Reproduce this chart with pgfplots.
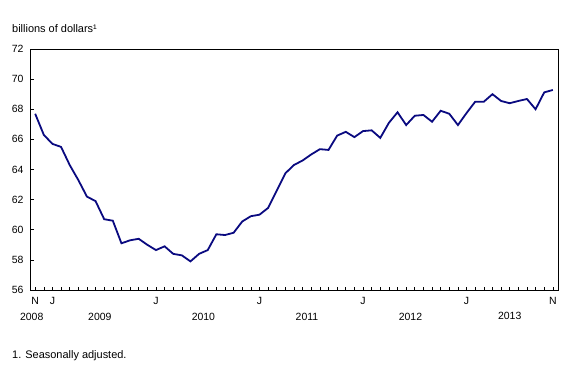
\documentclass[border=0pt]{standalone}
\usepackage{pgfplots}
\pgfplotsset{compat=1.18}
\usepackage{fontspec}
\setmainfont{Liberation Sans}
\definecolor{linecol}{RGB}{10,10,128}
\pgfplotstableread{
i v
0 67.7
1 66.3
2 65.7
3 65.5
4 64.3
5 63.3
6 62.2
7 61.9
8 60.7
9 60.6
10 59.1
11 59.3
12 59.4
13 59.0
14 58.65
15 58.9
16 58.4
17 58.3
18 57.9
19 58.4
20 58.65
21 59.7
22 59.65
23 59.8
24 60.55
25 60.9
26 61.0
27 61.45
28 62.6
29 63.75
30 64.3
31 64.6
32 65.0
33 65.35
34 65.3
35 66.25
36 66.5
37 66.15
38 66.55
39 66.6
40 66.1
41 67.1
42 67.8
43 66.95
44 67.57
45 67.62
46 67.17
47 67.9
48 67.7
49 66.95
50 67.75
51 68.5
52 68.5
53 69.0
54 68.55
55 68.4
56 68.55
57 68.68
58 68.0
59 69.12
60 69.28
}\datatable
\begin{document}
\begin{tikzpicture}[x=1bp,y=1bp]
\path[use as bounding box] (0,0) rectangle (588,380);
\begin{axis}[
  at={(30bp,90bp)}, anchor=south west, scale only axis,
  width=528bp, height=241bp,
  xmin=-0.6, xmax=60.6, ymin=56, ymax=72,
  ytick={56,58,...,72},
  xtick={0,...,60}, xticklabels={},
  tick align=inside, major tick length=3.5bp,
  ytick pos=left, xtick pos=bottom,
  extra x ticks={0,2,14,26,38,50,60},
  extra x tick labels={N,J,J,J,J,J,N},
  extra x tick style={major tick length=0pt, xticklabel style={yshift=-4bp}},
  yticklabel style={xshift=-3bp},
  axis line style={line width=0.8bp},
  tick style={black, line width=0.6bp},
  ticklabel style={font=\fontsize{10.5}{12}\selectfont},
  /pgf/number format/assume math mode=true,
  clip=false,
]
\addplot[linecol, line width=1.8bp] table[x=i, y=v] {\datatable};
\node[anchor=base, font=\fontsize{10.5}{12}\selectfont] at ([yshift=-30bp]axis cs:-0.4,56) {2008};
\node[anchor=base, font=\fontsize{10.5}{12}\selectfont] at ([yshift=-30bp]axis cs:7.5,56) {2009};
\node[anchor=base, font=\fontsize{10.5}{12}\selectfont] at ([yshift=-30bp]axis cs:19.5,56) {2010};
\node[anchor=base, font=\fontsize{10.5}{12}\selectfont] at ([yshift=-30bp]axis cs:31.5,56) {2011};
\node[anchor=base, font=\fontsize{10.5}{12}\selectfont] at ([yshift=-30bp]axis cs:43.5,56) {2012};
\node[anchor=base, font=\fontsize{10.5}{12}\selectfont] at ([yshift=-29bp]axis cs:55,56) {2013};
\end{axis}
\node[anchor=base west, inner sep=0pt, font=\fontsize{11}{13}\selectfont] at (12,348) {billions of dollars¹};
\node[anchor=base west, inner sep=0pt, font=\fontsize{11}{13}\selectfont] at (12,22) {1. Seasonally adjusted.};
\end{tikzpicture}
\end{document}
